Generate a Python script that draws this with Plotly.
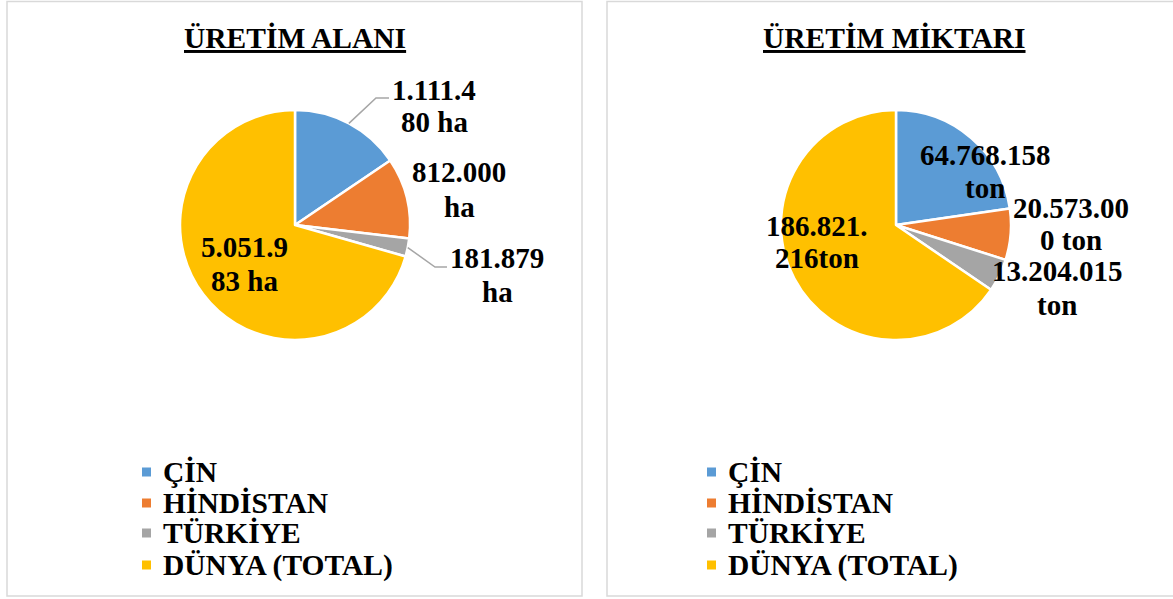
import math
import plotly.graph_objects as go

W, H = 1173, 599

# --- data ---
ulkeler = ["ÇİN", "HİNDİSTAN", "TÜRKİYE", "DÜNYA (TOTAL)"]
renkler = ["#5B9BD5", "#ED7D31", "#A5A5A5", "#FFC000"]

alan_ha = [1111480, 812000, 181879, 5051983]
miktar_ton = [64768158, 20573000, 13204015, 186821216]

alan_etiket = [["1.111.4", "80 ha"], ["812.000", "ha"], ["181.879", "ha"], ["5.051.9", "83 ha"]]
miktar_etiket = [["64.768.158", "ton"], ["20.573.00", "0 ton"], ["13.204.015", "ton"], ["186.821.", "216ton"]]

FONT = "Liberation Serif, Times New Roman, serif"


def px(x, y):
    # pixel -> paper coordinates
    return x / W, 1 - y / H


panels = [
    dict(title="ÜRETİM ALANI", values=alan_ha, labels=alan_etiket,
         box=(7, 1.5, 582, 596), cx=295, cy=225, r=115,
         lab_pos=[(434, 90, 122), (459, 172, 207), (497, 258, 292), (244, 247, 281)],
         leaders={0: [(376, 98), (389, 98)], 2: [(435, 267), (447, 267)]},
         leg_x=142),
    dict(title="ÜRETİM MİKTARI", values=miktar_ton, labels=miktar_etiket,
         box=(607, 1.5, 1182, 596), cx=896, cy=225, r=115,
         lab_pos=[(985, 155, 188), (1071, 208, 240), (1057, 271, 305), (817, 226, 258)],
         leaders={},
         leg_x=707),
]

fig = go.Figure()
shapes = []
annotations = []
leg_rows = [472, 503, 533, 565]

for p in panels:
    cx, cy, r = p["cx"], p["cy"], p["r"]
    fig.add_trace(go.Pie(
        labels=ulkeler, values=p["values"], sort=False,
        direction="clockwise", rotation=0, textinfo="none",
        marker=dict(colors=renkler, line=dict(color="white", width=2.5)),
        domain=dict(x=[(cx - r) / W, (cx + r) / W],
                    y=[1 - (cy + r) / H, 1 - (cy - r) / H]),
        showlegend=False, name=p["title"]))

    # panel border
    x0, y0, x1, y1 = p["box"]
    shapes.append(dict(type="rect", xref="paper", yref="paper",
                       x0=x0 / W, x1=x1 / W, y0=1 - y1 / H, y1=1 - y0 / H,
                       line=dict(color="#D9D9D9", width=1.5), fillcolor="rgba(0,0,0,0)"))

    # title
    tx, ty = px((x0 + x1) / 2, 38)
    annotations.append(dict(x=tx, y=ty, xref="paper", yref="paper", showarrow=False,
                            text="<b><u>%s</u></b>" % p["title"],
                            font=dict(family=FONT, size=29.5, color="black"),
                            xanchor="center", yanchor="middle"))

    # data labels
    for (lx, ly1, ly2), lines in zip(p["lab_pos"], p["labels"]):
        for ly, t in zip((ly1, ly2), lines):
            ax, ay = px(lx, ly)
            annotations.append(dict(x=ax, y=ay, xref="paper", yref="paper", showarrow=False,
                                    text="<b>%s</b>" % t,
                                    font=dict(family=FONT, size=29, color="black"),
                                    xanchor="center", yanchor="middle"))

    # leader lines from slice middle on the edge
    total = sum(p["values"])
    for i, pts in p["leaders"].items():
        frac = (sum(p["values"][:i]) + p["values"][i] / 2) / total
        th = 2 * math.pi * frac
        sx, sy = cx + r * math.sin(th), cy - r * math.cos(th)
        path_pts = [px(sx, sy)] + [px(a, b) for a, b in pts]
        path = "M" + " L".join("%f,%f" % q for q in path_pts)
        shapes.append(dict(type="path", xref="paper", yref="paper", path=path,
                           line=dict(color="#A6A6A6", width=1.5)))

    # legend
    for name, col, ly in zip(ulkeler, renkler, leg_rows):
        lx = p["leg_x"]
        shapes.append(dict(type="rect", xref="paper", yref="paper",
                           x0=lx / W, x1=(lx + 9) / W,
                           y0=1 - (ly + 4.5) / H, y1=1 - (ly - 4.5) / H,
                           line=dict(width=0), fillcolor=col))
        ax, ay = px(lx + 19, ly)
        annotations.append(dict(x=ax, y=ay, xref="paper", yref="paper", showarrow=False,
                                text="<b>%s</b>" % name,
                                font=dict(family=FONT, size=29.5, color="black"),
                                xanchor="left", yanchor="middle"))

fig.update_layout(
    width=W, height=H, autosize=False,
    margin=dict(l=0, r=0, t=0, b=0),
    paper_bgcolor="white", plot_bgcolor="white",
    shapes=shapes, annotations=annotations,
)

# drop the default 8px page margin so the figure sits at the window origin
fig.write_html("out.html", config={"displayModeBar": False},
               post_script="document.body.style.margin='0';")
